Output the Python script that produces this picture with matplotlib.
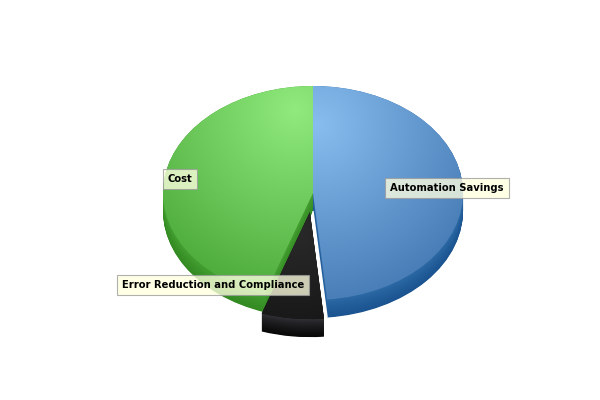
import numpy as np
import matplotlib
matplotlib.use('Agg')
import matplotlib.pyplot as plt
from matplotlib.colors import to_rgb

labels = ["Automation Savings", "Error Reduction and Compliance", "Cost"]
values = [48.5, 6.7, 44.8]
explode = [0.0, 0.18, 0.0]

top_light = ['#88bdef', '#2a2a2a', '#90ea7d']
top_dark = ['#356aa6', '#151515', '#43a232']
side_top = ['#2d6ca8', '#34343a', '#46a233']
side_bot = ['#1b5490', '#080808', '#338a22']

W, H = 600, 400
a, b = 150.0, 107.0
s = b / a
cx_px, cy_px = 313, 193
depth_px = 18

def mix(c1, c2, f):
    c1, c2 = np.array(to_rgb(c1)), np.array(to_rgb(c2))
    return tuple(c1 * (1 - f) + c2 * f)

fig = plt.figure(figsize=(6, 4), dpi=100)
ax = fig.add_axes([0, 0, 1, 1])
ymax = H / s
cx, cy = cx_px, (H - cy_px) / s
depth = depth_px / s
expl = [e * a for e in explode]

n = 30
for k in range(n, 0, -1):
    f = k / n
    cols = [mix(side_top[i], side_bot[i], f ** 0.7) for i in range(3)]
    ax.pie(values, explode=expl, radius=a, center=(cx, cy - depth * f),
           startangle=90, counterclock=False, colors=cols,
           wedgeprops=dict(linewidth=0), frame=True)

wedges, _ = ax.pie(values, explode=expl, radius=a, center=(cx, cy),
                   startangle=90, counterclock=False, colors=top_dark,
                   wedgeprops=dict(linewidth=0), frame=True)

# gradient shading on top faces
yy, xx = np.mgrid[0:H, 0:W] + 0.5
highlights = [(318, 125, 230), (295, 230, 110), (295, 110, 215)]
for i, w in enumerate(wedges):
    hx, hy, R = highlights[i]
    t = np.clip(np.hypot(xx - hx, yy - hy) / R, 0, 1)[..., None]
    lo = np.array(to_rgb(top_light[i]))
    hi = np.array(to_rgb(top_dark[i]))
    img = lo * (1 - t) + hi * t
    im = ax.imshow(img, extent=(0, W, 0, ymax), origin='upper',
                   aspect='auto', zorder=2, interpolation='bilinear')
    im.set_clip_path(w)

# thin white highlight along lower edge of the blue slice's radial face
w0 = wedges[0]
th = np.deg2rad(w0.theta1)
x0, y0 = w0.center
ax.plot([x0, x0 + w0.r * np.cos(th)],
        [y0 - depth, y0 + w0.r * np.sin(th) - depth],
        color='white', lw=1.0, zorder=1.5, solid_capstyle='butt')

# labels
label_pos = [(447, 188.5), (213, 284.5), (180, 179)]
for lab, (px, py) in zip(labels, label_pos):
    ax.text(px, (H - py) / s, lab, ha='center', va='center',
            fontsize=7.2, fontweight='bold', color='black', zorder=4,
            family='DejaVu Sans',
            bbox=dict(boxstyle='square,pad=0.5', fc='#ffffe0', ec='#9a9a9a',
                      lw=0.8, alpha=0.78))

ax.set_aspect('auto')
ax.set_xlim(0, W)
ax.set_ylim(0, ymax)
ax.axis('off')
fig.savefig('out.png', dpi=100)
